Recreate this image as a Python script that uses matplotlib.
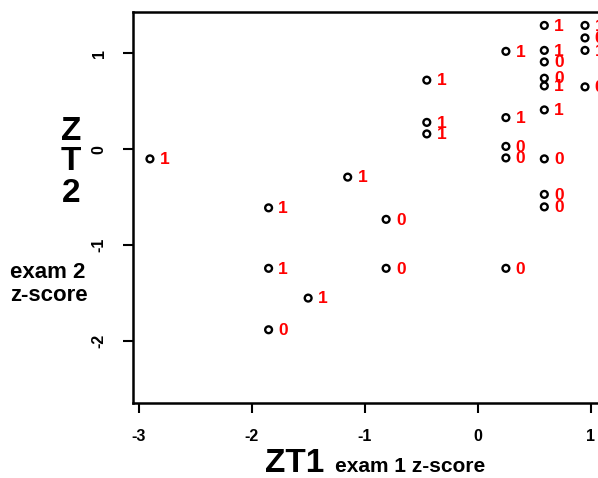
import matplotlib
matplotlib.use("Agg")
import matplotlib.pyplot as plt

# data: exam 1 z-score, exam 2 z-score, outcome label
zt1 = [-2.90, -1.85, -1.15, -0.81, -1.85, -0.81, -1.50, -1.85,
       -0.45, -0.45, -0.45,
       0.25, 0.25, 0.25, 0.25, 0.25,
       0.59, 0.59, 0.59, 0.59, 0.59, 0.59, 0.59, 0.59, 0.59,
       0.95, 0.95, 0.95, 0.95]
zt2 = [-0.10, -0.61, -0.29, -0.73, -1.24, -1.24, -1.55, -1.88,
       0.72, 0.28, 0.16,
       1.02, 0.33, 0.03, -0.09, -1.24,
       1.29, 1.03, 0.91, 0.74, 0.66, 0.41, -0.10, -0.47, -0.60,
       1.29, 1.16, 1.03, 0.65]
outcome = ["1", "1", "1", "0", "1", "0", "1", "0",
           "1", "1", "1",
           "1", "1", "0", "0", "0",
           "1", "1", "0", "0", "1", "1", "0", "0", "0",
           "1", "0", "1", "0"]

x_ticks = [-3, -2, -1, 0, 1]
y_ticks = [-2, -1, 0, 1]

W, H = 598, 478
fig = plt.figure(figsize=(W / 100, H / 100), dpi=100)
left_px, top_px, bottom_px, width_px = 133, 12, 403, 490
ax = fig.add_axes([left_px / W, (H - bottom_px) / H, width_px / W, (bottom_px - top_px) / H])

font = ['Liberation Sans', 'DejaVu Sans']

ax.scatter(zt1, zt2, s=24, facecolors='none', edgecolors='black', linewidths=1.7, zorder=3)
for x, y, lab in zip(zt1, zt2, outcome):
    ax.annotate(lab, (x, y), xytext=(10.5, -0.5), textcoords='offset points',
                color='red', fontsize=12.5, fontweight='bold', family=font,
                ha='center', va='center', annotation_clip=False)

ax.set_xlim(-3.05, -3.05 + width_px / 113)
ax.set_ylim(1.43 - (bottom_px - top_px) / 96, 1.43)

ax.set_xticks(x_ticks)
ax.set_xticklabels([str(v) for v in x_ticks], fontsize=11.5, fontweight='bold', family=font)
ax.set_yticks(y_ticks)
ax.set_yticklabels([str(v) for v in y_ticks], fontsize=11.5, fontweight='bold', family=font,
                   rotation=90, va='center')
ax.tick_params(axis='x', direction='out', length=7, width=1.5, pad=12)
ax.tick_params(axis='y', direction='out', length=7, width=1.5, pad=12)
for sp in ax.spines.values():
    sp.set_linewidth(1.8)
    sp.set_color('black')

# axis titles
fig.text(71 / W, 1 - 162 / H, "Z\nT\n2", fontsize=24, fontweight='bold', family=font,
         ha='center', va='center', linespacing=1.0)
fig.text(10 / W, 1 - 284 / H, "exam 2\nz-score", fontsize=16, fontweight='bold', family=font,
         ha='left', va='center', linespacing=1.15)
fig.text(265 / W, 1 - 464 / H, "ZT1", fontsize=24, fontweight='bold', family=font,
         ha='left', va='center')
fig.text(335 / W, 1 - 467 / H, "exam 1 z-score", fontsize=15, fontweight='bold', family=font,
         ha='left', va='center')

fig.savefig("out.png", dpi=100)
